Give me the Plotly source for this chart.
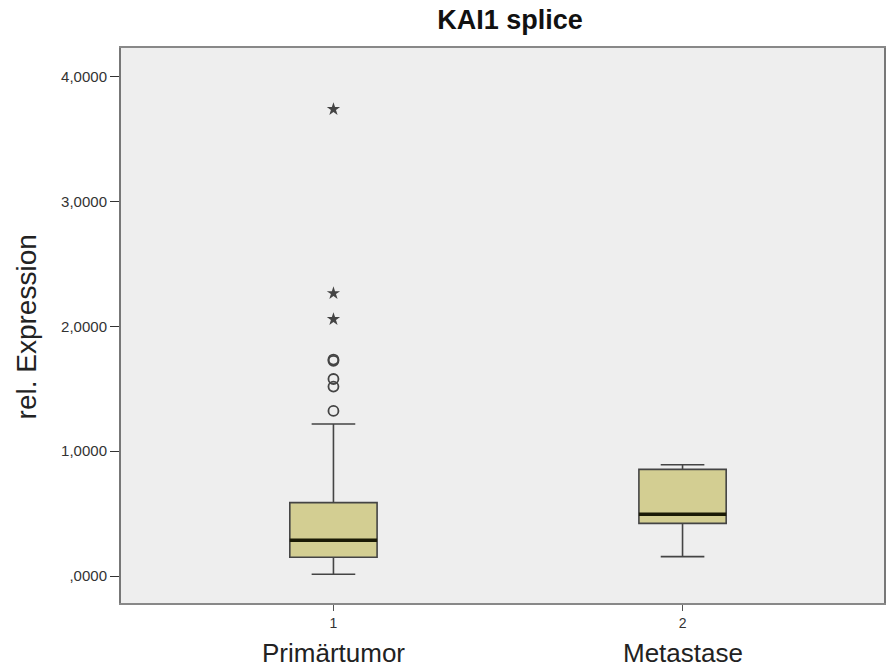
import plotly.graph_objects as go

# ---- data ----
groups = ["Primärtumor", "Metastase"]
group_pos = [1, 2]
q1 = [0.150, 0.422]
median = [0.286, 0.494]
q3 = [0.588, 0.855]
lower_whisker = [0.014, 0.155]
upper_whisker = [1.218, 0.892]
circle_outliers = [1.323, 1.518, 1.579, 1.725, 1.735]  # group 1
star_outliers = [2.058, 2.266, 3.741]                   # group 1
y_tickvals = [0, 1, 2, 3, 4]
y_ticktext = [",0000", "1,0000", "2,0000", "3,0000", "4,0000"]

BOX_W = 0.25
fill = "#D3CE92"
font = "Liberation Sans, Arial, sans-serif"

fig = go.Figure()
fig.add_trace(go.Box(
    x=group_pos, q1=q1, median=median, q3=q3,
    lowerfence=lower_whisker, upperfence=upper_whisker,
    width=BOX_W, whiskerwidth=0.5,
    fillcolor=fill, line=dict(color="#444444", width=1.6),
    boxpoints=False, showlegend=False, hoverinfo="skip",
))
# thick median lines
for xp, m in zip(group_pos, median):
    fig.add_trace(go.Scatter(
        x=[xp - BOX_W / 2, xp + BOX_W / 2], y=[m, m], mode="lines",
        line=dict(color="#1a1a05", width=3.5), showlegend=False, hoverinfo="skip"))
fig.add_trace(go.Scatter(
    x=[group_pos[0]] * len(circle_outliers), y=circle_outliers, mode="markers",
    marker=dict(symbol="circle-open", size=10, color="#444444", line=dict(width=1.8)),
    showlegend=False, hoverinfo="skip"))
fig.add_trace(go.Scatter(
    x=[group_pos[0]] * len(star_outliers), y=star_outliers, mode="markers",
    marker=dict(symbol="star", size=10, color="#444444"),
    showlegend=False, hoverinfo="skip"))

for xp, name in zip(group_pos, groups):
    fig.add_annotation(x=xp, xref="x", y=-0.09, yref="paper", text=name,
                       showarrow=False, yanchor="middle",
                       font=dict(family=font, size=26, color="#222222"))

fig.add_annotation(x=(26 - 121) / 765, xref="paper", y=0.497, yref="paper",
                   text="rel. Expression", textangle=-90, showarrow=False,
                   xanchor="center", yanchor="middle",
                   font=dict(family=font, size=28, color="#222222"))

fig.update_layout(
    width=886, height=670,
    margin=dict(l=121, r=0, t=48, b=67),
    paper_bgcolor="white", plot_bgcolor="#EEEEEE",
    title=dict(text="<b>KAI1 splice</b>", x=510 / 886, xanchor="center",
               y=1 - 20 / 670, yanchor="middle",
               font=dict(family=font, size=27, color="#111111")),
    xaxis=dict(range=[0.3914, 2.5771], tickvals=group_pos, ticktext=["1", "2"],
               showgrid=False, zeroline=False, showline=True, linecolor="#888888",
               linewidth=2, mirror=True, ticks="outside", ticklen=6, tickcolor="#555555",
               tickfont=dict(family=font, size=14, color="#333333")),
    yaxis=dict(range=[-0.2164, 4.232], tickvals=y_tickvals, ticktext=y_ticktext,
               showgrid=False, zeroline=False, showline=True, linecolor="#777777",
               linewidth=2, mirror=True, ticks="outside", ticklen=9, tickcolor="#333333",
               tickfont=dict(family=font, size=15, color="#333333")),
)
fig.write_html("out.html")
